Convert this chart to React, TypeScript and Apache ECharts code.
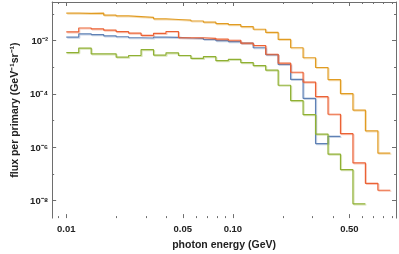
import React, { useEffect, useRef } from "react";
import * as echarts from "echarts";

// Bin edges (GeV) of the log-spaced histogram
const binEdges = [
  0.01, 0.01188, 0.01411, 0.01677, 0.01992, 0.02366, 0.02811, 0.0334, 0.03967,
  0.04713, 0.05598, 0.06651, 0.07901, 0.09385, 0.1115, 0.1324, 0.1573, 0.1869,
  0.222, 0.2637, 0.3133, 0.3722, 0.4421, 0.5252, 0.6239, 0.7413, 0.8806,
];

// Flux per primary (GeV^-1 sr^-1), one value per bin
const orangeFlux = [
  0.107, 0.105, 0.108, 0.0904, 0.0845, 0.0797, 0.0751, 0.0657, 0.062, 0.0584,
  0.0546, 0.0494, 0.0435, 0.0397, 0.0336, 0.0267, 0.0203, 0.01107, 0.00541,
  0.00228, 9.85e-4, 3.47e-4, 1.04e-4, 2.5e-5, 4.17e-6, 6.04e-7,
];
const redFlux = [
  0.0213, 0.0298, 0.0274, 0.0246, 0.0217, 0.0191, 0.0159, 0.0188, 0.022,
  0.01285, 0.01285, 0.01224, 0.01135, 0.01035, 0.00804, 0.00657, 0.00309,
  0.001435, 6.52e-4, 2.79e-4, 7.9e-5, 1.74e-5, 3.24e-6, 2.61e-7, 4.46e-8, 2.46e-8,
];
const blueFlux = [
  0.01365, 0.018, 0.01683, 0.01521, 0.01398, 0.01285, 0.01255, 0.01365, 0.0133,
  0.01255, 0.01224, 0.01106, 0.01, 0.0092, 0.00804, 0.00542, 0.00301, 0.001277,
  3.52e-4, 6.86e-5, 1.38e-6, 2.58e-6,
];
const greenFlux = [
  0.00356, 0.00528, 0.00319, 0.00322, 0.0024, 0.00277, 0.00458, 0.00288,
  0.0035, 0.00277, 0.00215, 0.0025, 0.00177, 0.00198, 0.0015, 0.001164,
  7.84e-4, 2.13e-4, 5.65e-5, 1.68e-5, 3.13e-6, 5.54e-7, 1.45e-7, 7.64e-9,
];

// Tick marks
const xMajorTicks = [0.01, 0.05, 0.1, 0.5];
const xMajorLabels = ["0.01", "0.05", "0.10", "0.50"];
const xMinorTicks = [
  0.009, 0.02, 0.03, 0.04, 0.06, 0.07, 0.08, 0.09, 0.2, 0.3, 0.4, 0.6, 0.7, 0.8, 0.9,
];
const yMajorTicks = [1e-2, 1e-4, 1e-6, 1e-8];
const yMajorLabels = ["10\u207B\u00B2", "10\u207B\u2074", "10\u207B\u2076", "10\u207B\u2078"];
const yMinorTicks = [1e-1, 1e-3, 1e-5, 1e-7];

const xRange = [0.008228, 0.9521];
const yRange = [2.222e-9, 0.2812];

const L = Math.log10;

function stepData(vals: number[]) {
  const pts: number[][] = [];
  for (let i = 0; i < vals.length; i++) pts.push([L(binEdges[i]), L(vals[i])]);
  pts.push([L(binEdges[vals.length]), L(vals[vals.length - 1])]);
  return pts;
}

const FONT = "Liberation Sans";
const AXIS_COLOR = "#6e6e6e";

export default function App() {
  const ref = useRef<HTMLDivElement>(null);
  useEffect(() => {
    if (!ref.current) return;
    const chart = echarts.init(ref.current, undefined, { renderer: "svg" });
    const xMaj = xMajorTicks.map(L);
    const xMin = xMinorTicks.map(L);
    const yMaj = yMajorTicks.map(L);
    const yMin = yMinorTicks.map(L);
    const nearest = (vals: number[], v: number) => {
      let bi = 0;
      for (let i = 1; i < vals.length; i++)
        if (Math.abs(vals[i] - v) < Math.abs(vals[bi] - v)) bi = i;
      return bi;
    };
    const baseX = {
      type: "value" as const,
      min: L(xRange[0]),
      max: L(xRange[1]),
      splitLine: { show: false },
    };
    const baseY = {
      type: "value" as const,
      min: L(yRange[0]),
      max: L(yRange[1]),
      splitLine: { show: false },
    };
    const lineStyle = { color: AXIS_COLOR, width: 1 };
    const series = [
      { name: "blue", data: stepData(blueFlux), color: "#5E81B5" },
      { name: "green", data: stepData(greenFlux), color: "#8FB032" },
      { name: "orange", data: stepData(orangeFlux), color: "#E19C24" },
      { name: "red", data: stepData(redFlux), color: "#EB6235" },
    ].map((s) => ({
      type: "line" as const,
      name: s.name,
      data: s.data,
      step: "end" as const,
      showSymbol: false,
      symbol: "none",
      xAxisIndex: 0,
      yAxisIndex: 0,
      lineStyle: {
        color: s.color,
        width: 1.2,
        shadowColor: s.color + "55",
        shadowBlur: 0,
        shadowOffsetX: 1,
        shadowOffsetY: 1,
      },
      itemStyle: { color: s.color },
    }));

    chart.setOption({
      animation: false,
      grid: { left: 37, right: 3, top: 2, bottom: 30, containLabel: false },
      xAxis: [
        {
          ...baseX,
          position: "bottom",
          name: "photon energy (GeV)",
          nameLocation: "middle",
          nameGap: 17,
          nameTextStyle: { fontFamily: FONT, fontSize: 10.5, fontWeight: "bold", color: "#222" },
          axisLine: { show: false },
          axisTick: { show: true, inside: true, length: 4, customValues: xMaj, lineStyle },
          axisLabel: {
            show: true,
            customValues: xMaj,
            margin: 5,
            fontFamily: FONT,
            fontSize: 9.5,
            fontWeight: "bold",
            color: "#222",
            formatter: (v: number) => xMajorLabels[nearest(xMaj, v)],
          },
        },
        {
          ...baseX,
          position: "bottom",
          axisLine: { show: false },
          axisTick: { show: true, inside: true, length: 2, customValues: xMin, lineStyle },
          axisLabel: { show: false },
        },
        {
          ...baseX,
          position: "top",
          axisLine: { show: true, lineStyle },
          axisTick: { show: true, inside: true, length: 4, customValues: xMaj, lineStyle },
          axisLabel: { show: false },
        },
        {
          ...baseX,
          position: "top",
          axisLine: { show: false },
          axisTick: { show: true, inside: true, length: 2, customValues: xMin, lineStyle },
          axisLabel: { show: false },
        },
      ],
      yAxis: [
        {
          ...baseY,
          position: "left",
          name: "flux per primary (GeV\u207B\u00B9sr\u207B\u00B9)",
          nameLocation: "middle",
          nameGap: 23,
          nameTextStyle: { fontFamily: FONT, fontSize: 10.5, fontWeight: "bold", color: "#222" },
          axisLine: { show: true, lineStyle },
          axisTick: { show: true, inside: true, length: 4, customValues: yMaj, lineStyle },
          axisLabel: {
            show: true,
            customValues: yMaj,
            margin: 4,
            fontFamily: FONT,
            fontSize: 9.5,
            fontWeight: "bold",
            color: "#222",
            formatter: (v: number) => yMajorLabels[nearest(yMaj, v)],
          },
        },
        {
          ...baseY,
          position: "left",
          axisLine: { show: false },
          axisTick: { show: true, inside: true, length: 2, customValues: yMin, lineStyle },
          axisLabel: { show: false },
        },
        {
          ...baseY,
          position: "right",
          axisLine: { show: true, lineStyle },
          axisTick: { show: true, inside: true, length: 4, customValues: yMaj, lineStyle },
          axisLabel: { show: false },
        },
        {
          ...baseY,
          position: "right",
          axisLine: { show: false },
          axisTick: { show: true, inside: true, length: 2, customValues: yMin, lineStyle },
          axisLabel: { show: false },
        },
      ],
      series,
    });
    return () => chart.dispose();
  }, []);
  return <div ref={ref} style={{ width: 399, height: 254, position: "fixed", left: 0, top: 0 }} />;
}
